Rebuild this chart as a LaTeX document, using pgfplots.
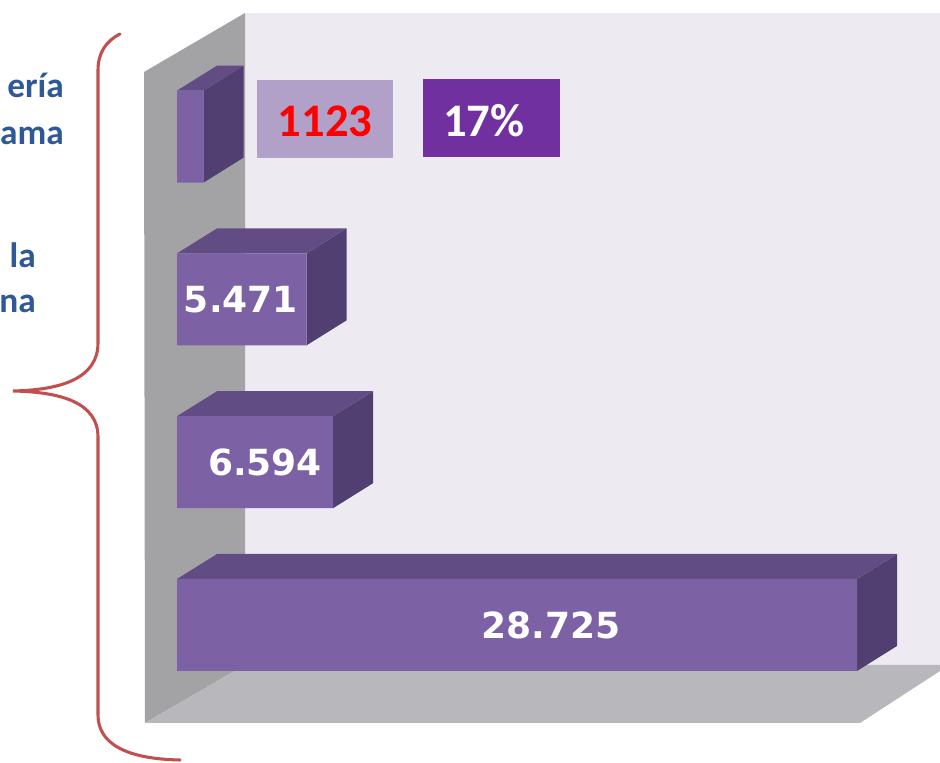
\documentclass[border=0pt]{standalone}
\usepackage{pgfplots}
\pgfplotsset{compat=1.18}
\usepackage{pgfplotstable}
\usepackage{fontspec}
\setmainfont{Carlito}
\newfontfamily\dv{DejaVu Sans}

\definecolor{frontc}{RGB}{124,97,164}
\definecolor{topc}{RGB}{97,77,132}
\definecolor{sidec}{RGB}{80,63,112}
\definecolor{backwall}{RGB}{237,234,242}
\definecolor{leftwall}{RGB}{163,163,165}
\definecolor{floorc}{RGB}{184,183,188}
\definecolor{bracec}{RGB}{192,80,77}
\definecolor{txtblue}{RGB}{47,88,150}
\definecolor{boxlight}{RGB}{177,161,200}
\definecolor{boxdark}{RGB}{112,48,160}

\pgfplotstableread{
y v
0 28.725
1 6.594
2 5.471
3 1.123
}\bardata
\pgfplotstableread{
y lx lab
0 15.80 28.725
1 3.72 6.594
2 2.70 5.471
}\labdata

\begin{document}
\begin{tikzpicture}
\begin{scope}[x=0.75pt,y=0.75pt]
\useasboundingbox (0,0) rectangle (940,763);
\clip (0,0) rectangle (940,763);
% chart walls
\fill[backwall] (245,98) rectangle (940,750);
\fill[leftwall] (144,691) -- (245,750) -- (245,98) -- (145,40) -- cycle;
\fill[floorc] (145,40) -- (860,40) -- (940,92) -- (940,98) -- (245,98) -- cycle;
% left texts
\begin{scope}[font=\bfseries\fontsize{26.5}{32}\selectfont, text=txtblue]
\node[anchor=base east, inner sep=0pt] at (64,665) {ería};
\node[anchor=base east, inner sep=0pt] at (64,618) {ama};
\node[anchor=base east, inner sep=0pt] at (36,495) {la};
\node[anchor=base east, inner sep=0pt] at (36,450) {na};
\end{scope}
% brace
\draw[bracec, line width=2.3pt, line cap=round]
  (120,729) .. controls (106,722) and (98,710) .. (98,693)
  -- (98,420) .. controls (98,385) and (62,373) .. (13,372)
  .. controls (62,371) and (98,360) .. (98,326)
  -- (98,48) .. controls (98,20) and (125,4) .. (180,3);
\end{scope}
\begin{axis}[at={(132.75pt,42.45pt)}, anchor=south west, scale only axis,
  width=510pt, height=488.4pt,
  xmin=0, xmax=28.725, ymin=-0.5, ymax=3.5,
  hide axis, clip=false]
\pgfplotsinvokeforeach{0,1,2,3}{
  \pgfplotstablegetelem{#1}{v}\of\bardata
  \let\val\pgfplotsretval
  \pgfmathsetmacro\yt{#1+0.2825}
  \pgfmathsetmacro\yb{#1-0.2825}
  \edef\tmp{%
    \noexpand\fill[sidec] (axis cs:\val,\yt) -- ([shift={(30pt,18.75pt)}]axis cs:\val,\yt) -- ([shift={(30pt,18.75pt)}]axis cs:\val,\yb) -- (axis cs:\val,\yb) -- cycle;
    \noexpand\fill[topc] (axis cs:0,\yt) -- ([shift={(30pt,18.75pt)}]axis cs:0,\yt) -- ([shift={(30pt,18.75pt)}]axis cs:\val,\yt) -- (axis cs:\val,\yt) -- cycle;
  }%
  \tmp
}
\addplot[xbar, bar width=0.565, fill=frontc, draw=none] table[x=v,y=y]{\bardata};
\addplot[only marks, mark=none, draw=none, nodes near coords, point meta=explicit symbolic,
  nodes near coords align=center,
  every node near coord/.append style={anchor=center, text=white, font={\dv\bfseries\fontsize{27}{30}\selectfont}}]
  table[x=lx,y=y,meta=lab]{\labdata};
\end{axis}
\begin{scope}[x=0.75pt,y=0.75pt]
% annotation boxes
\fill[boxlight] (257,605) rectangle (393,683);
\node[text=red, font=\bfseries\fontsize{35}{40}\selectfont] at (325,642) {1123};
\fill[boxdark] (423,606) rectangle (560,684);
\node[anchor=west, text=white, font=\bfseries\fontsize{35}{40}\selectfont, inner sep=0pt] at (443,642) {17\%};
\end{scope}
\end{tikzpicture}
\end{document}
